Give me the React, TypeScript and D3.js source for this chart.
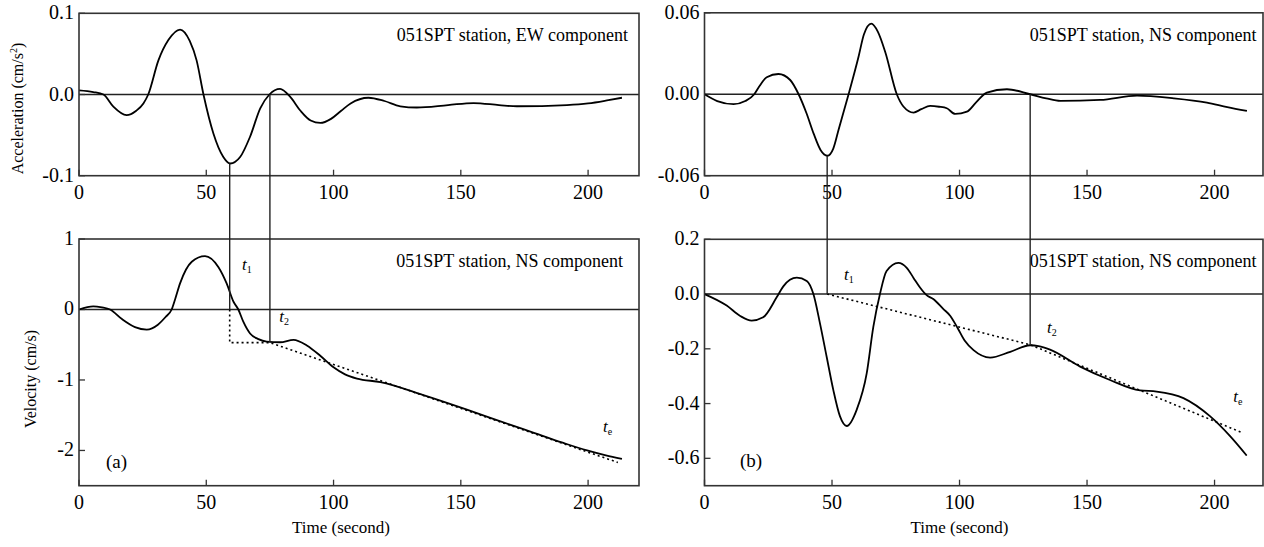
import React, { useEffect, useRef } from 'react';
import * as d3 from 'd3';

const WIDTH = 1264;
const HEIGHT = 547;
const FONT = "'Liberation Serif', 'Times New Roman', serif";

// shared time axis
const timeTicks = [0, 50, 100, 150, 200];

// (a) acceleration, EW component
const accEwTime = [0, 5.6, 9.6, 13.5, 18.7, 22.5, 25.3, 27.2, 31.2, 35.1, 39.7, 43.5, 46.2, 48.9, 52.8, 56.7, 59.4, 63.3, 67.2, 71.2, 74.8, 79, 83, 87, 91, 94.8, 99, 103, 106.7, 113.7, 120, 126.2, 132.7, 145, 155, 165, 172, 191.7, 200, 208, 213.3];
const accEwValue = [0.005, 0.003, 0, -0.015, -0.0255, -0.02, -0.011, 0, 0.042, 0.067, 0.08, 0.066, 0.042, 0, -0.048, -0.077, -0.085, -0.077, -0.052, -0.017, 0, 0.007, -0.003, -0.02, -0.032, -0.035, -0.03, -0.02, -0.011, -0.004, -0.008, -0.0145, -0.016, -0.013, -0.0105, -0.013, -0.0145, -0.013, -0.011, -0.007, -0.004];
const accEwTicks = [-0.1, 0, 0.1];
const accEwLabels = ['-0.1', '0.0', '0.1'];

// (a) velocity, NS component
const velATime = [0, 5.6, 9, 12.2, 17, 22, 26.6, 31, 34, 36.4, 37.8, 39.7, 44.3, 49.5, 54.8, 58, 60.7, 62.6, 64.5, 67.2, 70.5, 73.7, 79, 84.3, 89.5, 94.9, 100, 104.5, 109.2, 118.4, 135, 152.4, 165, 178.7, 190, 199.6, 207, 213.3];
const velAValue = [0, 0.045, 0.03, 0, -0.14, -0.25, -0.285, -0.216, -0.107, 0, 0.15, 0.37, 0.677, 0.758, 0.6, 0.37, 0.11, 0, -0.17, -0.34, -0.42, -0.455, -0.465, -0.43, -0.51, -0.66, -0.82, -0.92, -0.98, -1.03, -1.21, -1.42, -1.58, -1.75, -1.89, -2.0, -2.07, -2.12];
const velATicks = [-2, -1, 0, 1];
const velALabels = ['-2', '-1', '0', '1'];
const baseATime = [59.2, 59.2, 75, 211.7];
const baseAValue = [0, -0.47, -0.47, -2.17];

// (b) acceleration, NS component
const accNsTime = [0, 5, 11.4, 16, 19.5, 21.2, 24.4, 29, 33.6, 36.9, 40, 42.8, 45.5, 48.2, 50.5, 52.6, 56.5, 60.4, 62.5, 65.4, 68, 70.9, 75.4, 78, 82, 85, 88.5, 92, 95, 98.3, 102.9, 106.5, 110.7, 118.6, 127.7, 134, 139.5, 155.2, 169.6, 184, 197, 205, 212.7];
const accNsValue = [0, -0.005, -0.0073, -0.005, 0, 0.005, 0.0125, 0.0149, 0.0105, 0, -0.014, -0.029, -0.041, -0.0453, -0.04, -0.026, 0, 0.0276, 0.044, 0.052, 0.046, 0.031, 0, -0.009, -0.0135, -0.011, -0.0086, -0.0092, -0.0103, -0.0145, -0.0128, -0.006, 0.0012, 0.0037, 0, -0.003, -0.0049, -0.0042, -0.001, -0.003, -0.0062, -0.0095, -0.0123];
const accNsTicks = [-0.06, 0, 0.06];
const accNsLabels = ['-0.06', '0.00', '0.06'];

// (b) velocity, NS component
const velBTime = [0, 8.7, 14, 18.5, 23, 28.3, 30.9, 33.5, 36.2, 40.1, 42.7, 45.3, 47.9, 50.5, 53.1, 55.8, 59.7, 63.6, 66.2, 68.8, 71.4, 76, 79.3, 81.9, 84.5, 87.1, 89.7, 93.6, 96.4, 99.3, 102, 105.5, 112, 119.9, 127.7, 131, 135.5, 147.3, 159, 170.8, 177.3, 187.8, 198.2, 206.1, 212.6];
const velBValue = [0, -0.042, -0.08, -0.097, -0.085, -0.012, 0.028, 0.052, 0.06, 0.048, 0, -0.108, -0.229, -0.35, -0.446, -0.482, -0.422, -0.29, -0.12, 0, 0.084, 0.114, 0.096, 0.06, 0.024, -0.004, -0.018, -0.054, -0.08, -0.125, -0.17, -0.205, -0.232, -0.211, -0.187, -0.19, -0.203, -0.265, -0.314, -0.352, -0.356, -0.38, -0.446, -0.519, -0.59];
const velBTicks = [-0.6, -0.4, -0.2, 0, 0.2];
const velBLabels = ['-0.6', '-0.4', '-0.2', '0.0', '0.2'];
const baseBTime = [48.1, 127.7, 210.7];
const baseBValue = [0, -0.185, -0.506];

// picked times t1, t2 and the values where the marker lines stop
const markATime = [59.2, 75];
const markATop = [-0.085, 0];
const markABottom = [0, -0.46];
const markBTime = [48.1, 127.7];
const markBTop = [-0.0453, 0];
const markBBottom = [0, -0.187];

// t labels: [time, velocity, subscript]
const tagsA: [number, number, string][] = [[64, 0.56, '1'], [78.7, -0.18, '2'], [205.9, -1.745, 'e']];
const tagsB: [number, number, string][] = [[54.7, 0.052, '1'], [134.3, -0.144, '2'], [207.3, -0.393, 'e']];

type Sel = d3.Selection<SVGGElement, unknown, null, undefined>;
type Scale = d3.ScaleLinear<number, number>;

function drawPanel(
  g: Sel,
  x: Scale,
  y: Scale,
  yTicks: number[],
  yLabels: string[],
  note: string,
  noteDx: number,
  t: number[],
  v: number[],
) {
  const [x0, x1] = x.range();
  const [yb, yt] = y.range();

  g.append('line')
    .attr('x1', x0).attr('x2', x1)
    .attr('y1', y(0)).attr('y2', y(0))
    .attr('stroke', '#222').attr('stroke-width', 1.4);

  timeTicks.forEach((d) => {
    g.append('line')
      .attr('x1', x(d)).attr('x2', x(d))
      .attr('y1', yb).attr('y2', yb - 6)
      .attr('stroke', '#333').attr('stroke-width', 1.3);
    g.append('text')
      .attr('x', x(d)).attr('y', yb + 23)
      .attr('text-anchor', 'middle')
      .attr('font-size', 20)
      .text(d);
  });

  yTicks.forEach((d, i) => {
    g.append('line')
      .attr('x1', x0).attr('x2', x0 + 6)
      .attr('y1', y(d)).attr('y2', y(d))
      .attr('stroke', '#333').attr('stroke-width', 1.3);
    g.append('text')
      .attr('x', x0 - 5).attr('y', y(d) + 6)
      .attr('text-anchor', 'end')
      .attr('font-size', 20)
      .text(yLabels[i]);
  });

  g.append('text')
    .attr('x', x1 - noteDx).attr('y', yt + 28)
    .attr('text-anchor', 'end')
    .attr('font-size', 18)
    .text(note);

  const line = d3.line<number>()
    .x((_, i) => x(t[i]))
    .y((d) => y(d))
    .curve(d3.curveMonotoneX);

  g.append('path')
    .datum(v)
    .attr('fill', 'none')
    .attr('stroke', '#000')
    .attr('stroke-width', 1.8)
    .attr('d', line);

  g.append('rect')
    .attr('x', x0).attr('y', yt)
    .attr('width', x1 - x0).attr('height', yb - yt)
    .attr('fill', 'none')
    .attr('stroke', '#333')
    .attr('stroke-width', 1.6);
}

function drawBase(g: Sel, x: Scale, y: Scale, t: number[], v: number[]) {
  const line = d3.line<number>()
    .x((_, i) => x(t[i]))
    .y((d) => y(d));
  g.append('path')
    .datum(v)
    .attr('fill', 'none')
    .attr('stroke', '#000')
    .attr('stroke-width', 1.6)
    .attr('stroke-dasharray', '2,3')
    .attr('d', line);
}

function drawMarks(g: Sel, x: Scale, yTop: Scale, yBot: Scale, t: number[], top: number[], bot: number[]) {
  t.forEach((d, i) => {
    g.append('line')
      .attr('x1', x(d)).attr('x2', x(d))
      .attr('y1', yTop(top[i])).attr('y2', yBot(bot[i]))
      .attr('stroke', '#222').attr('stroke-width', 1.4);
  });
}

function drawTags(g: Sel, x: Scale, y: Scale, tags: [number, number, string][]) {
  tags.forEach(([tt, vv, sub]) => {
    const txt = g.append('text')
      .attr('x', x(tt)).attr('y', y(vv))
      .attr('font-size', 17)
      .attr('font-style', 'italic');
    txt.append('tspan').text('t');
    txt.append('tspan')
      .attr('dy', 3)
      .attr('font-size', 10)
      .attr('font-style', 'normal')
      .text(sub);
  });
}

export default function App() {
  const svgRef = useRef<SVGSVGElement>(null);

  useEffect(() => {
    if (!svgRef.current) return;
    const svg = d3.select(svgRef.current);
    svg.selectAll('*').remove();

    const root = svg.append('g').attr('font-family', FONT).attr('fill', '#000');

    const xL = d3.scaleLinear().domain([0, 220]).range([79, 639]);
    const xR = d3.scaleLinear().domain([0, 219]).range([704.5, 1263]);
    const yTL = d3.scaleLinear().domain([-0.1, 0.1]).range([175.7, 13.3]);
    const yBL = d3.scaleLinear().domain([-2.5, 1]).range([485.7, 239]);
    const yTR = d3.scaleLinear().domain([-0.06, 0.06]).range([175.7, 12.8]);
    const yBR = d3.scaleLinear().domain([-0.7, 0.2]).range([485.7, 239.3]);

    drawPanel(root, xL, yTL, accEwTicks, accEwLabels, '051SPT station, EW component', 11, accEwTime, accEwValue);
    drawPanel(root, xL, yBL, velATicks, velALabels, '051SPT station, NS component', 16, velATime, velAValue);
    drawPanel(root, xR, yTR, accNsTicks, accNsLabels, '051SPT station, NS component', 6.5, accNsTime, accNsValue);
    drawPanel(root, xR, yBR, velBTicks, velBLabels, '051SPT station, NS component', 6.5, velBTime, velBValue);

    drawBase(root, xL, yBL, baseATime, baseAValue);
    drawBase(root, xR, yBR, baseBTime, baseBValue);

    drawMarks(root, xL, yTL, yBL, markATime, markATop, markABottom);
    drawMarks(root, xR, yTR, yBR, markBTime, markBTop, markBBottom);

    drawTags(root, xL, yBL, tagsA);
    drawTags(root, xR, yBR, tagsB);

    root.append('text').attr('x', 106).attr('y', 468).attr('font-size', 19).text('(a)');
    root.append('text').attr('x', 740).attr('y', 467).attr('font-size', 19).text('(b)');

    const accTitle = root.append('text')
      .attr('transform', 'translate(23,108.5) rotate(-90)')
      .attr('text-anchor', 'middle')
      .attr('font-size', 16);
    accTitle.append('tspan').text('Acceleration (cm/s');
    accTitle.append('tspan').attr('dy', -6).attr('font-size', 10).text('2');
    accTitle.append('tspan').attr('dy', 6).text(')');

    root.append('text')
      .attr('transform', 'translate(36,379) rotate(-90)')
      .attr('text-anchor', 'middle')
      .attr('font-size', 16)
      .text('Velocity (cm/s)');

    root.append('text')
      .attr('x', 341).attr('y', 533)
      .attr('text-anchor', 'middle')
      .attr('font-size', 17)
      .text('Time (second)');
    root.append('text')
      .attr('x', 959.5).attr('y', 533)
      .attr('text-anchor', 'middle')
      .attr('font-size', 17)
      .text('Time (second)');
  }, []);

  return (
    <div style={{ position: 'absolute', left: 0, top: 0 }}>
      <svg ref={svgRef} width={WIDTH} height={HEIGHT} style={{ display: 'block', background: '#fff' }} />
    </div>
  );
}
